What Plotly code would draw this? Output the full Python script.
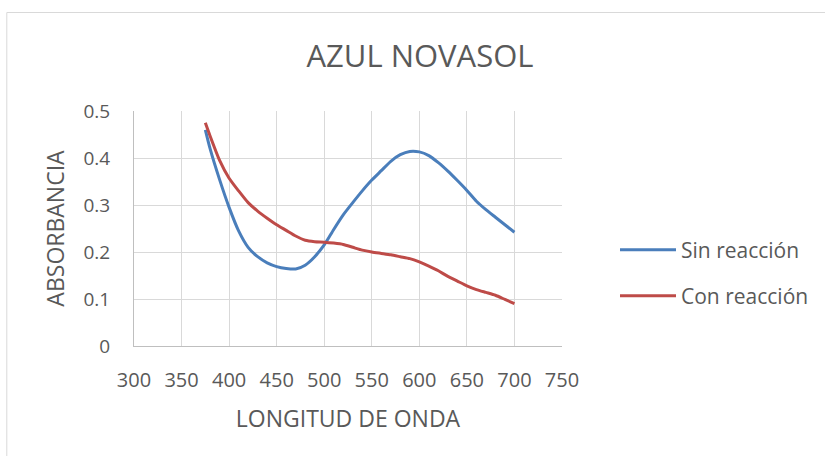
import plotly.graph_objects as go

wavelength = [375, 380, 390, 400, 410, 420, 430, 440, 450, 460, 470, 480, 490, 500,
              510, 520, 530, 540, 550, 560, 570, 580, 590, 600, 610, 620, 630, 640,
              650, 660, 670, 680, 690, 700]
sin_reaccion = [0.46, 0.42, 0.354, 0.295, 0.245, 0.21, 0.19, 0.177, 0.169, 0.165, 0.164,
                0.172, 0.19, 0.215, 0.248, 0.279, 0.305, 0.33, 0.353, 0.373, 0.393, 0.407,
                0.414, 0.413, 0.405, 0.39, 0.372, 0.352, 0.331, 0.308, 0.29, 0.274, 0.258, 0.242]
con_reaccion = [0.475, 0.447, 0.395, 0.357, 0.33, 0.305, 0.287, 0.272, 0.258, 0.246, 0.234,
                0.225, 0.222, 0.221, 0.219, 0.216, 0.21, 0.204, 0.2, 0.197, 0.194, 0.19,
                0.186, 0.179, 0.17, 0.16, 0.148, 0.138, 0.128, 0.12, 0.114, 0.108, 0.099, 0.09]
x_ticks = [300, 350, 400, 450, 500, 550, 600, 650, 700, 750]
y_ticks = [0, 0.1, 0.2, 0.3, 0.4, 0.5]
y_tick_labels = ["0", "0.1", "0.2", "0.3", "0.4", "0.5"]

FONT = "Open Sans, Carlito, Liberation Sans, sans-serif"
GREY = "#595959"

fig = go.Figure()
fig.add_trace(go.Scatter(x=wavelength, y=sin_reaccion, mode="lines", name="Sin reacción",
                         legend="legend",
                         line=dict(color="#4a7ebb", width=3, shape="spline", smoothing=0.6)))
fig.add_trace(go.Scatter(x=wavelength, y=con_reaccion, mode="lines", name="Con reacción",
                         legend="legend2",
                         line=dict(color="#be4b48", width=3, shape="spline", smoothing=0.6)))

W, H = 825, 456
L, R, T, B = 134, 262, 111, 110
pw, ph = W - L - R, H - T - B

def px(x):
    return (x - L) / pw

def py(y):
    return (H - B - y) / ph

leg_common = dict(xanchor="left", yanchor="middle", itemwidth=56,
                  font=dict(family=FONT, size=21, color=GREY),
                  bgcolor="rgba(0,0,0,0)")

fig.update_layout(
    width=W, height=H,
    margin=dict(l=L, r=R, t=T, b=B),
    paper_bgcolor="white", plot_bgcolor="white",
    font=dict(family=FONT, color=GREY, size=19),
    title=dict(text="AZUL NOVASOL", x=420 / W, xanchor="center",
               y=1 - 56 / H, yanchor="middle",
               font=dict(family=FONT, size=31, color=GREY)),
    showlegend=True,
    legend=dict(x=px(615), y=py(250), **leg_common),
    legend2=dict(x=px(615), y=py(296), **leg_common),
    xaxis=dict(range=[300, 750], tickvals=x_ticks, showgrid=True, gridcolor="#d9d9d9",
               gridwidth=1, showline=True, linecolor="#bfbfbf", linewidth=1,
               zeroline=False, ticks="", ticklabelstandoff=16,
               tickfont=dict(size=20, color=GREY),
               title=dict(text="LONGITUD DE ONDA", font=dict(size=23, color=GREY), standoff=18)),
    yaxis=dict(range=[0, 0.5], tickvals=y_ticks, ticktext=y_tick_labels, showgrid=True,
               gridcolor="#d9d9d9", gridwidth=1, showline=True, linecolor="#bfbfbf",
               linewidth=1, zeroline=False, ticks="", ticklabelstandoff=19,
               tickfont=dict(size=19, color=GREY),
               title=dict(text="ABSORBANCIA", font=dict(size=23, color=GREY), standoff=12)),
    shapes=[dict(type="rect", xref="paper", yref="paper",
                 x0=px(6.5), x1=px(830), y0=py(460), y1=py(12.5),
                 line=dict(color="#d9d9d9", width=1), fillcolor="rgba(0,0,0,0)", layer="below")],
)

fig.write_html("out.html", config={"displayModeBar": False},
               post_script="document.body.style.margin='0';")
